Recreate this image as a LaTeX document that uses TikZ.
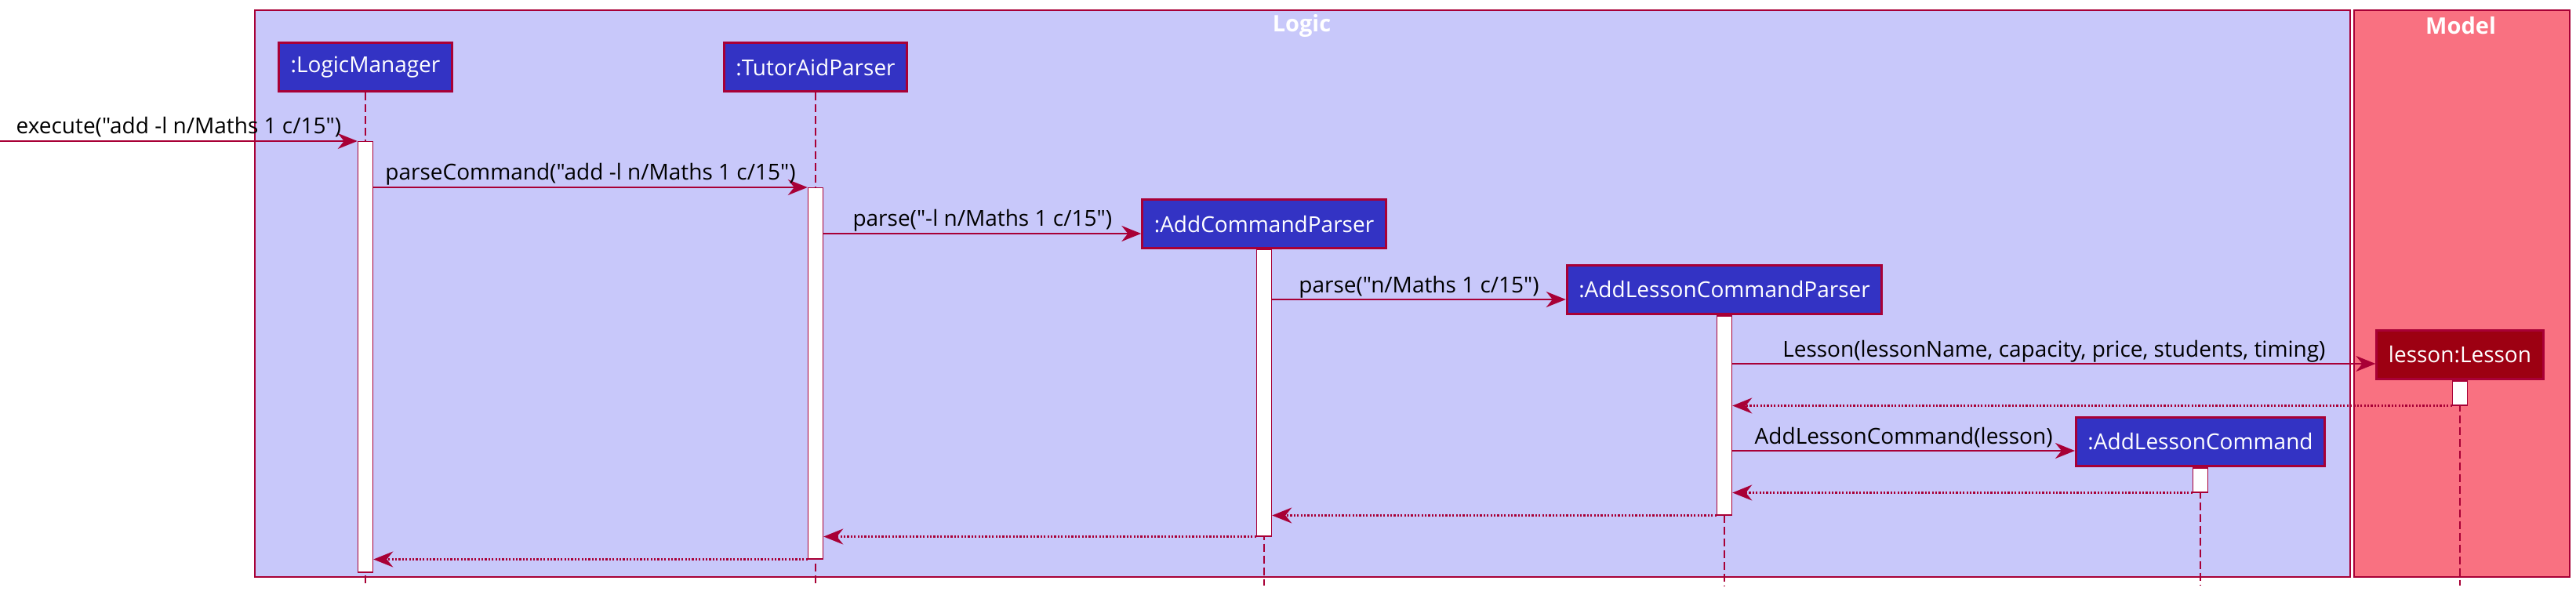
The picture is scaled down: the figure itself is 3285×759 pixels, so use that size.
\documentclass[tikz,border=0pt]{standalone}
\usepackage{fontspec}
\setmainfont{Open Sans}[Ligatures=TeXOff]
\usepackage{xcolor}
\usetikzlibrary{positioning, arrows.meta, backgrounds}
\definecolor{logicblue}{HTML}{3333C4}
\definecolor{logiclight}{HTML}{C8C8FA}
\definecolor{modeldark}{HTML}{9D0012}
\definecolor{modellight}{HTML}{F97181}
\definecolor{umlborder}{HTML}{A80036}

\begin{document}
\begin{tikzpicture}[
    x=1pt, y=-1pt,
    font=\fontsize{28}{32}\selectfont,
    frame/.style={draw=umlborder, line width=2pt, anchor=north west, inner sep=0pt},
    ftitle/.style={text=white, font=\fontsize{29}{33}\selectfont\bfseries},
    part/.style={draw=umlborder, line width=3pt, fill=logicblue, text=white, minimum height=62pt, inner xsep=15pt},
    actbar/.style={draw=umlborder, line width=1.5pt, fill=white, minimum width=19pt, inner sep=0pt, anchor=north},
    lifeline/.style={draw=umlborder, line width=1.5pt, dash pattern=on 10pt off 5pt},
    msg/.style={draw=umlborder, line width=1.8pt, -{Stealth[length=25pt, width=20pt, inset=8pt]}},
    ret/.style={msg, line width=2.2pt, dash pattern=on 2.2pt off 2.2pt},
    lbl/.style={anchor=base, yshift=9pt, inner sep=0pt}
]
\useasboundingbox (0,0) rectangle (3285,759);

% --- Boxes ---
\node[frame, fill=logiclight, minimum width=2672, minimum height=723] (logic) at (324,12) {};
\node[frame, fill=modellight, minimum width=275, minimum height=723] (model) at (3001,12) {};
\node[ftitle] (logictitle) at (1660,33) {Logic};
\node[ftitle] (modeltitle) at (3138,33) {Model};

% --- Participants ---
\node[part] (lm) at (466,86) {:LogicManager};
\node[part] (tap) at (1040,86) {:TutorAidParser};
\node[part] (acp) at (1612,286) {:AddCommandParser};
\node[part] (alcp) at (2199,369) {:AddLessonCommandParser};
\node[part, fill=modeldark] (les) at (3137,452) {lesson:Lesson};
\node[part] (alc) at (2806,563) {:AddLessonCommand};

% --- Lifelines ---
\foreach \p in {lm, tap, acp, alcp, les, alc}
    \draw[lifeline] (\p.south) -- (\p.south |- 0,747);

% --- Activations ---
\node[actbar, minimum height=549] (lmbar) at (466,180) {};
\node[actbar, minimum height=473] (tapbar) at (1040,239) {};
\node[actbar, minimum height=365] (acpbar) at (1612,318) {};
\node[actbar, minimum height=254] (alcpbar) at (2199,402) {};
\node[actbar, minimum height=31] (lesbar) at (3137,485) {};
\node[actbar, minimum height=31] (alcbar) at (2806,596) {};

% --- Calls ---
\coordinate (start) at (0,180);
\draw[msg] (start) -- node[lbl]{execute("add -l n/Maths 1 c/15")} (lmbar.north west);
\draw[msg] (lmbar.east |- tapbar.north) -- node[lbl]{parseCommand("add -l n/Maths 1 c/15")} (tapbar.north west);
\draw[msg] (tapbar.east |- 0,298) -- node[lbl]{parse("-l n/Maths 1 c/15")} (acp.west |- 0,298);
\draw[msg] (acpbar.east |- 0,382) -- node[lbl]{parse("n/Maths 1 c/15")} (alcp.west |- 0,382);
\draw[msg] (alcpbar.east |- 0,464) -- node[lbl]{Lesson(lessonName, capacity, price, students, timing)} (les.west |- 0,464);
\draw[msg] (alcpbar.east |- 0,575) -- node[lbl]{AddLessonCommand(lesson)} (alc.west |- 0,575);

% --- Returns ---
\draw[ret] (lesbar.south west) -- (alcpbar.east |- lesbar.south);
\draw[ret] (alcbar.south west) -- (alcpbar.east |- alcbar.south);
\draw[ret] (alcpbar.south west) -- (acpbar.east |- alcpbar.south);
\draw[ret] (acpbar.south west) -- (tapbar.east |- acpbar.south);
\draw[ret] (tapbar.south west) -- (lmbar.east |- tapbar.south);

\end{tikzpicture}
\end{document}
